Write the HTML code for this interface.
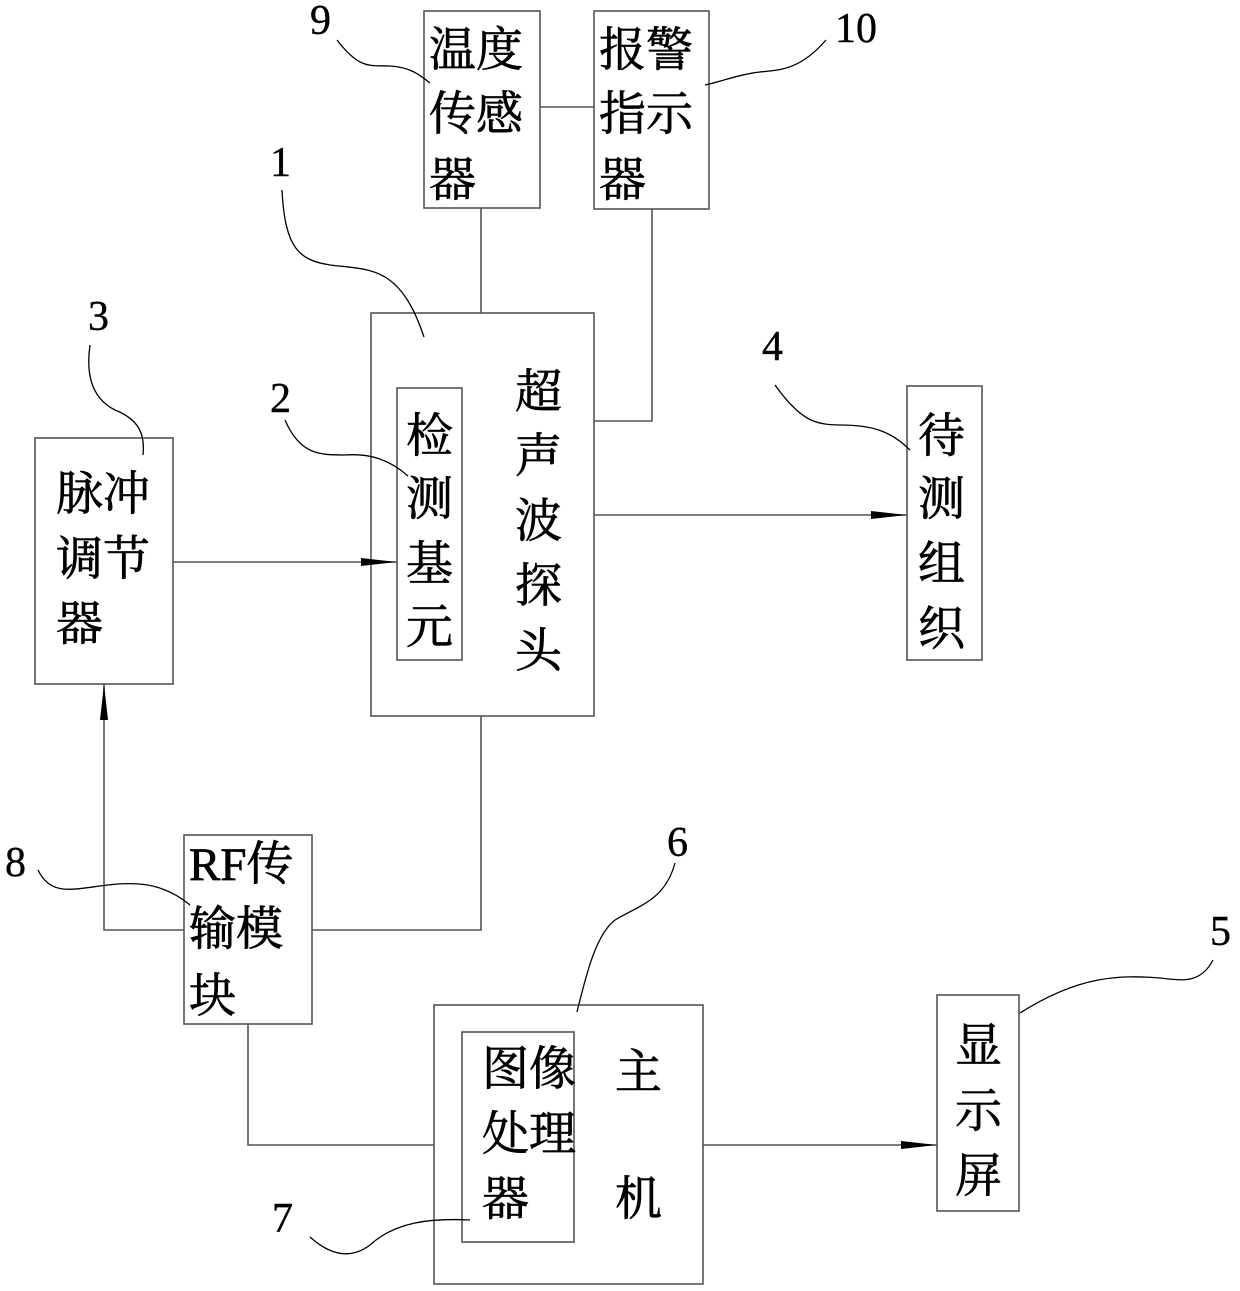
<!DOCTYPE html>
<html><head><meta charset="utf-8"><style>
html,body{margin:0;padding:0;background:#fff;}
svg{display:block;}
text{font-family:"Liberation Serif","Noto Serif CJK SC","Noto Sans CJK SC",serif;font-size:47px;fill:#000;stroke:#000;stroke-width:0.7;}
.n{font-family:"Liberation Serif",serif;font-size:42px;stroke-width:0.4;}
</style></head><body>
<svg width="1240" height="1291" viewBox="0 0 1240 1291" xmlns="http://www.w3.org/2000/svg">
<defs><marker id="a" markerWidth="36" markerHeight="10" refX="36" refY="5" orient="auto" markerUnits="userSpaceOnUse"><path d="M0,1 L36,5 L0,9 Z" fill="#000"/></marker></defs>
<g fill="none" stroke="#555" stroke-width="1.6">
<rect x="424" y="11" width="116" height="197"/>
<rect x="594" y="11" width="115" height="198"/>
<line x1="540" y1="107" x2="594" y2="107"/>
<line x1="481" y1="208" x2="481" y2="313"/>
<rect x="371" y="313" width="223" height="403"/>
<rect x="397" y="388" width="65" height="272"/>
<polyline points="652,209 652,421 594,421"/>
<rect x="907" y="386" width="75" height="274"/>
<line x1="594" y1="515" x2="907" y2="515" marker-end="url(#a)"/>
<rect x="35" y="438" width="138" height="246"/>
<line x1="173" y1="562" x2="397" y2="562" marker-end="url(#a)"/>
<rect x="184" y="835" width="128" height="189"/>
<polyline points="312,930 481,930 481,716"/>
<polyline points="184,930 104,930 104,684" marker-end="url(#a)"/>
<rect x="434" y="1005" width="269" height="279"/>
<rect x="462" y="1032" width="112" height="210"/>
<polyline points="248,1024 248,1145 434,1145"/>
<line x1="703" y1="1145" x2="937" y2="1145" marker-end="url(#a)"/>
<rect x="937" y="995" width="82" height="216"/>
</g>
<g fill="none" stroke="#000" stroke-width="1.3">
<path d="M337,40 C360,70 370,65 390,66 C410,67 420,75 430,83"/>
<path d="M826,40 C800,70 780,70 760,72 C740,74 720,82 705,85"/>
<path d="M282,190 C285,250 300,260 330,265 C370,270 400,265 424,337"/>
<path d="M90,345 C85,380 95,400 115,410 C140,420 145,435 143,455"/>
<path d="M285,420 C300,455 320,455 345,455 C370,453 390,460 408,476"/>
<path d="M775,385 C800,420 815,425 840,425 C870,425 890,430 910,450"/>
<path d="M675,863 C665,900 640,905 615,920 C595,935 585,980 577,1012"/>
<path d="M1213,960 C1200,985 1180,980 1160,978 C1120,975 1080,975 1020,1013"/>
<path d="M38,870 C50,895 70,890 100,886 C130,882 160,880 190,905"/>
<path d="M310,1237 C330,1255 350,1260 370,1245 C395,1222 430,1218 470,1220"/>
</g>
<text class="n" x="310" y="34">9</text>
<text class="n" x="835" y="42">10</text>
<text class="n" x="270" y="176">1</text>
<text class="n" x="88" y="330">3</text>
<text class="n" x="270" y="412">2</text>
<text class="n" x="762" y="360">4</text>
<text class="n" x="667" y="856">6</text>
<text class="n" x="1210" y="945">5</text>
<text class="n" x="5" y="876">8</text>
<text class="n" x="272" y="1232">7</text>
<text x="429" y="66">温度</text>
<text x="429" y="130">传感</text>
<text x="429" y="196">器</text>
<text x="599" y="66">报警</text>
<text x="599" y="130">指示</text>
<text x="599" y="196">器</text>
<text x="515" y="408">超</text>
<text x="515" y="472">声</text>
<text x="515" y="537">波</text>
<text x="515" y="602">探</text>
<text x="515" y="667">头</text>
<text x="406" y="452">检</text>
<text x="406" y="515">测</text>
<text x="406" y="580">基</text>
<text x="406" y="643">元</text>
<text x="918" y="452">待</text>
<text x="918" y="515">测</text>
<text x="918" y="580">组</text>
<text x="918" y="645">织</text>
<text x="56" y="510">脉冲</text>
<text x="56" y="575">调节</text>
<text x="56" y="640">器</text>
<text x="189" y="880">RF传</text>
<text x="189" y="945">输模</text>
<text x="189" y="1012">块</text>
<text x="482" y="1085">图像</text>
<text x="482" y="1150">处理</text>
<text x="482" y="1215">器</text>
<text x="615" y="1088">主</text>
<text x="615" y="1215">机</text>
<text x="955" y="1062">显</text>
<text x="955" y="1127">示</text>
<text x="955" y="1192">屏</text>
</svg>
</body></html>
